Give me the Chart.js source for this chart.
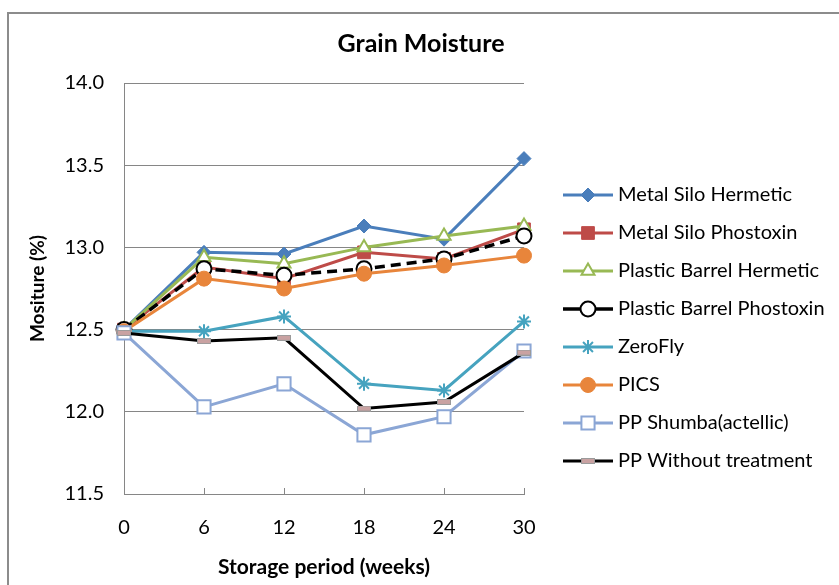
<!DOCTYPE html>
<html>
<head>
<meta charset="utf-8">
<script src="https://cdn.jsdelivr.net/npm/chart.js@4.4.1/dist/chart.umd.min.js"></script>
<style>
  html, body { margin: 0; padding: 0; background: #fff; }
  #wrap { position: relative; width: 839px; height: 585px; overflow: hidden; }
  #frame { position: absolute; left: 7px; top: 12px; width: 900px; height: 700px;
           border-left: 2px solid #8c8c8c; border-top: 2px solid #8c8c8c; }
  #c { position: absolute; left: 0; top: 0; }
</style>
</head>
<body>
<div id="wrap">
  <div id="frame"></div>
  <canvas id="c" width="839" height="585"></canvas>
</div>
<script>
// storage period (weeks)
const weeks = ['0', '6', '12', '18', '24', '30'];

// moisture (%) per treatment
const metalSiloHermetic      = [12.50, 12.97, 12.96, 13.13, 13.05, 13.54];
const metalSiloPhostoxin     = [12.50, 12.88, 12.81, 12.97, 12.93, 13.11];
const plasticBarrelHermetic  = [12.50, 12.94, 12.90, 13.00, 13.07, 13.13];
const plasticBarrelPhostoxin = [12.50, 12.87, 12.83, 12.87, 12.93, 13.07];
const zeroFly                = [12.49, 12.49, 12.58, 12.17, 12.13, 12.55];
const pics                   = [12.49, 12.81, 12.75, 12.84, 12.89, 12.95];
const ppShumba               = [12.48, 12.03, 12.17, 11.86, 11.97, 12.37];
const ppWithoutTreatment     = [12.48, 12.43, 12.45, 12.02, 12.06, 12.36];

const yTicks = [11.5, 12.0, 12.5, 13.0, 13.5, 14.0];

const FONT = 'Lato, "Open Sans", sans-serif';
const GRID = '#868686';

// small grey/pink dash used as marker for the untreated bags
function dashMarker() {
  const c = document.createElement('canvas');
  c.width = 14; c.height = 6;
  const g = c.getContext('2d');
  g.fillStyle = '#c9a2a2';
  g.fillRect(1, 1, 12, 4);
  g.strokeStyle = '#9a9a9a';
  g.lineWidth = 1;
  g.strokeRect(0.5, 0.5, 13, 5);
  return c;
}

const SERIES = [
  { label: 'Metal Silo Hermetic',      data: metalSiloHermetic,      color: '#4a7ebb', style: 'rectRot',  r: 7,   fill: '#4a7ebb', border: '#4a7ebb', bw: 1 },
  { label: 'Metal Silo Phostoxin',     data: metalSiloPhostoxin,     color: '#be4b48', style: 'rect',     r: 9,   fill: '#be4b48', border: '#be4b48', bw: 1 },
  { label: 'Plastic Barrel Hermetic',  data: plasticBarrelHermetic,  color: '#98b954', style: 'triangle', r: 7.5, fill: '#ffffff', border: '#98b954', bw: 2 },
  { label: 'Plastic Barrel Phostoxin', data: plasticBarrelPhostoxin, color: '#000000', style: 'circle',   r: 7.5, fill: '#ffffff', border: '#000000', bw: 2, dash: [10, 6], width: 3.5 },
  { label: 'ZeroFly',                  data: zeroFly,                color: '#46a3bf', style: 'star',     r: 7,   fill: '#46a3bf', border: '#46a3bf', bw: 2 },
  { label: 'PICS',                     data: pics,                   color: '#e8853b', style: 'circle',   r: 7.5, fill: '#e8853b', border: '#e8853b', bw: 1 },
  { label: 'PP Shumba(actellic)',      data: ppShumba,               color: '#8ba6d5', style: 'rect',     r: 9.3, fill: '#ffffff', border: '#8ba6d5', bw: 2 },
  { label: 'PP Without treatment',     data: ppWithoutTreatment,     color: '#000000', style: dashMarker(), r: 6, fill: '#c9a2a2', border: '#9a9a9a', bw: 1 }
];

function legendIcon(s) {
  const c = document.createElement('canvas');
  c.width = 50; c.height = 20;
  const g = c.getContext('2d');
  g.strokeStyle = s.color;
  g.lineWidth = s.width || 3;
  g.beginPath(); g.moveTo(0, 10); g.lineTo(50, 10); g.stroke();
  g.fillStyle = s.fill;
  g.strokeStyle = s.border;
  g.lineWidth = s.bw;
  Chart.helpers.drawPoint(g, { pointStyle: s.style, radius: s.r, rotation: 0, borderWidth: s.bw }, 25, 10);
  return c;
}
const icons = SERIES.map(legendIcon);

const datasets = SERIES.map((s, i) => ({
  label: s.label,
  data: s.data,
  borderColor: s.color,
  borderWidth: s.width || 3,
  borderDash: s.dash || [],
  pointStyle: s.style,
  pointRadius: s.r,
  pointBackgroundColor: s.fill,
  pointBorderColor: s.border,
  pointBorderWidth: s.bw,
  tension: 0,
  order: SERIES.length - i
}));

// Excel-style tick marks on the inside of the category axis
const innerTicks = {
  id: 'innerTicks',
  beforeDatasetsDraw(chart) {
    const { ctx, chartArea } = chart;
    const xs = chart.scales.x;
    ctx.save();
    ctx.strokeStyle = GRID;
    ctx.lineWidth = 1;
    ctx.beginPath();
    xs.ticks.forEach((t, i) => {
      const px = Math.round(xs.getPixelForTick(i)) + 0.5;
      ctx.moveTo(px, chartArea.bottom);
      ctx.lineTo(px, chartArea.bottom - 6);
    });
    ctx.stroke();
    ctx.restore();
  }
};

new Chart(document.getElementById('c'), {
  type: 'line',
  data: { labels: weeks, datasets },
  plugins: [innerTicks],
  options: {
    responsive: false,
    animation: false,
    events: [],
    layout: { padding: { left: 12, top: 12, right: 9, bottom: 2 } },
    plugins: {
      title: {
        display: true, text: 'Grain Moisture', color: '#000',
        font: { family: FONT, size: 25, weight: 'bold' },
        padding: { top: 17, bottom: 24 }
      },
      legend: {
        position: 'right', align: 'start', maxWidth: 280,
        title: { display: true, text: '', padding: { top: 35, bottom: 0 }, font: { size: 100 } },
        labels: {
          usePointStyle: true, pointStyleWidth: 40, boxHeight: 19,
          padding: 18, color: '#000',
          font: { family: FONT, size: 20 },
          generateLabels: () => SERIES.map((s, i) => ({
            text: s.label, pointStyle: icons[i], datasetIndex: i, hidden: false,
            lineWidth: 0, fillStyle: 'transparent', strokeStyle: 'transparent', fontColor: '#000'
          }))
        }
      },
      tooltip: { enabled: false }
    },
    scales: {
      x: {
        type: 'category', offset: false,
        grid: { drawOnChartArea: false, drawTicks: false },
        border: { color: GRID, width: 1 },
        ticks: { color: '#000', font: { family: FONT, size: 20 }, padding: 22, maxRotation: 0 },
        title: { display: true, text: 'Storage period (weeks)', color: '#000',
                 font: { family: FONT, size: 21, weight: 'bold' }, padding: { top: 0, bottom: 3 } },
        afterFit: s => { s.height = 89; }
      },
      y: {
        min: yTicks[0], max: yTicks[yTicks.length - 1],
        afterBuildTicks: s => { s.ticks = yTicks.map(v => ({ value: v })); },
        grid: { color: GRID, lineWidth: 1, drawTicks: false },
        border: { color: GRID, width: 1 },
        ticks: { color: '#000', font: { family: FONT, size: 20 }, padding: 20,
                 callback: v => Number(v).toFixed(1) },
        title: { display: true, text: 'Mositure (%)', color: '#000',
                 font: { family: FONT, size: 19, weight: 'bold' }, padding: { top: 14, bottom: 0 } },
        afterFit: s => { s.width = 112; }
      },
      gap: {
        type: 'linear', position: 'right', display: true,
        grid: { display: false, drawTicks: false }, border: { display: false },
        ticks: { display: false },
        afterFit: s => { s.width = 26; }
      }
    }
  }
});
</script>
</body>
</html>
